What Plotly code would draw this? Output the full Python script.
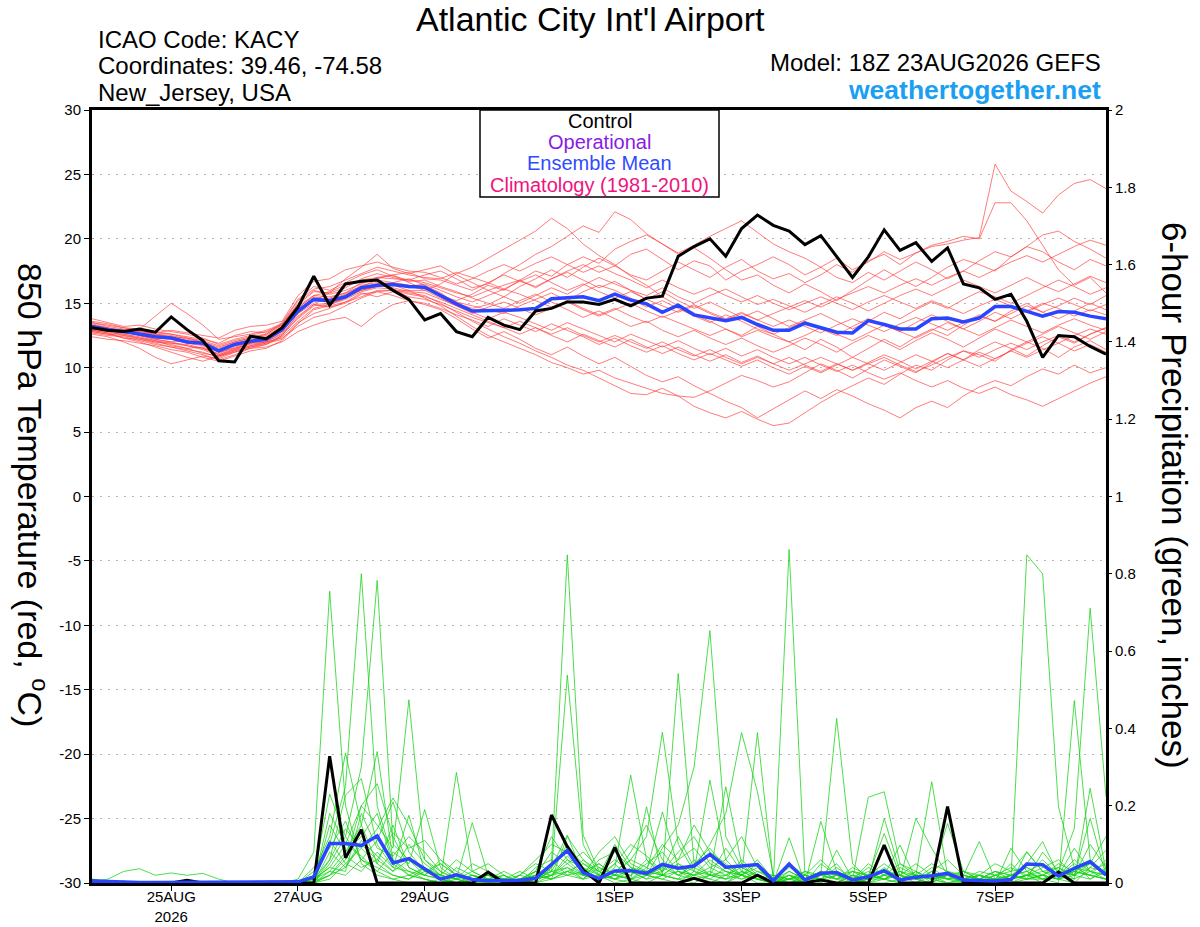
import pandas as pd
import plotly.graph_objects as go

# ---------------- data ----------------
run_start = "2026-08-23 18:00"   # first valid time, 6-hourly steps
n_steps = 65

tick_dates = ["2026-08-25", "2026-08-27", "2026-08-29", "2026-09-01",
              "2026-09-03", "2026-09-05", "2026-09-07"]
tick_labels = ["25AUG<br>2026", "27AUG", "29AUG", "1SEP", "3SEP", "5SEP", "7SEP"]

temp_ticks = [30, 25, 20, 15, 10, 5, 0, -5, -10, -15, -20, -25, -30]
precip_ticks = [0, 0.2, 0.4, 0.6, 0.8, 1, 1.2, 1.4, 1.6, 1.8, 2]

control_temp = [13.1, 12.9, 12.8, 13.0, 12.75, 13.94, 12.95, 12.1, 10.54, 10.44, 12.44, 12.25, 13.1,
                14.7, 17.1, 14.84, 16.5, 16.7, 16.8, 16.0, 15.3, 13.7, 14.2, 12.8, 12.4, 13.9,
                13.3, 12.95, 14.4, 14.6, 15.1, 15.1, 14.9, 15.3, 14.8, 15.4, 15.55, 18.65, 19.4,
                20.0, 18.65, 20.8, 21.85, 21.05, 20.6, 19.55, 20.25, 18.6, 17.0, 18.6, 20.7, 19.1,
                19.7, 18.25, 19.3, 16.5, 16.2, 15.3, 15.7, 13.6, 10.8, 12.5, 12.4, 11.65, 11.05]

mean_temp = [13.2, 12.95, 12.8, 12.6, 12.4, 12.3, 12.0, 11.9, 11.3, 11.8, 12.05, 12.2, 12.95,
             14.4, 15.3, 15.2, 15.5, 16.2, 16.4, 16.45, 16.3, 16.25, 15.6, 14.95, 14.4, 14.4,
             14.45, 14.5, 14.6, 15.35, 15.4, 15.5, 15.2, 15.7, 15.25, 14.95, 14.3, 14.85, 14.1,
             13.85, 13.65, 13.9, 13.35, 12.9, 12.9, 13.45, 13.1, 12.75, 12.7, 13.65, 13.35, 13.0,
             13.0, 13.8, 13.85, 13.55, 13.85, 14.75, 14.75, 14.4, 14.0, 14.35, 14.3, 14.0, 13.8]

control_precip = [0.005, 0.003, 0, 0, 0, 0, 0.007, 0, 0, 0, 0, 0, 0,
                  0, 0, 0.328, 0.065, 0.138, 0, 0, 0, 0, 0, 0, 0, 0.028,
                  0, 0, 0, 0.176, 0.094, 0.034, 0, 0.092, 0, 0, 0, 0, 0.012,
                  0, 0, 0, 0.02, 0, 0, 0, 0.008, 0, 0, 0, 0.098, 0,
                  0, 0, 0.198, 0, 0, 0, 0, 0, 0, 0.028, 0, 0, 0]

mean_precip = [0.005, 0.003, 0.001, 0.001, 0.001, 0.001, 0.001, 0.001, 0.001, 0.001, 0.001, 0.001, 0.001,
               0.003, 0.016, 0.102, 0.102, 0.097, 0.122, 0.052, 0.063, 0.037, 0.01, 0.021, 0.009, 0.006,
               0.006, 0.007, 0.012, 0.047, 0.084, 0.027, 0.012, 0.031, 0.032, 0.025, 0.048, 0.038, 0.044,
               0.074, 0.041, 0.044, 0.048, 0.006, 0.049, 0.008, 0.025, 0.027, 0.008, 0.016, 0.032, 0.008,
               0.015, 0.019, 0.025, 0.008, 0.006, 0.005, 0.009, 0.049, 0.047, 0.018, 0.038, 0.055, 0.021]

# ensemble member 850 hPa temperatures (deg C)
t01 = [13.5,13.2,13.0,12.8,12.6,12.4,12.3,12.0,11.6,12.0,12.3,12.6,13.3,14.8,15.6,15.9,16.4,16.8,17.0,16.9,16.8,16.6,
       16.2,15.8,15.5,16.0,16.4,16.8,16.2,16.9,17.5,18.0,17.4,17.9,17.2,16.8,17.5,18.2,17.6,17.0,17.8,18.4,17.5,16.9,
       17.3,16.6,17.2,18.0,17.4,18.3,18.8,18.0,18.9,19.4,19.6,19.9,20.1,25.8,23.7,22.9,22.0,23.4,24.3,24.6,23.9]
t02 = [13.0,12.8,12.9,12.5,12.2,12.0,12.1,11.8,11.2,11.5,11.9,12.3,13.0,14.2,15.0,15.4,15.8,16.3,16.8,16.6,16.9,16.4,
       15.8,15.0,14.6,14.9,15.5,16.3,16.9,17.6,17.0,17.8,18.5,17.9,18.8,19.2,18.4,17.6,18.3,17.9,16.8,17.5,18.0,18.6,
       18.0,17.2,17.8,18.5,17.6,18.2,19.0,18.4,18.9,19.5,19.8,20.2,20.0,22.8,22.8,21.4,19.5,17.6,16.4,17.0,15.8]
t03 = [13.4,13.1,12.7,12.9,12.7,12.6,12.4,12.2,11.9,12.5,12.8,12.7,13.5,15.3,16.3,16.0,16.6,17.2,17.6,17.1,16.8,17.2,
       17.5,16.9,16.2,16.5,17.3,18.0,18.8,19.4,20.2,21.0,20.5,22.1,21.5,20.4,19.6,18.8,19.3,18.5,17.6,16.8,17.2,16.4,
       15.8,16.5,15.9,15.2,16.0,16.8,17.6,16.9,16.3,17.0,17.8,18.4,18.0,17.5,18.6,19.4,19.0,18.2,17.6,18.4,17.9]
t04 = [12.8,12.6,12.5,12.2,12.0,11.8,11.5,11.6,11.0,11.4,11.7,12.0,12.6,13.8,14.8,14.9,15.4,16.0,16.3,16.4,16.0,16.0,
       16.5,17.3,17.8,18.5,19.2,19.9,20.6,21.6,20.8,19.6,18.7,18.0,17.1,16.4,15.5,14.8,14.1,13.6,13.0,12.5,13.2,12.6,
       12.0,11.4,12.2,11.6,10.8,11.5,12.2,11.6,12.4,13.0,12.5,13.3,14.0,13.6,14.4,15.0,14.3,14.8,15.4,14.9,15.6]
t05 = [13.1,12.9,12.6,12.4,12.1,11.9,11.8,11.5,11.1,11.6,11.9,12.1,12.8,14.6,15.6,15.5,15.8,16.6,16.9,17.2,16.6,16.1,
       15.6,15.2,15.7,16.4,16.0,16.8,17.5,17.1,18.0,18.6,18.1,19.2,19.8,20.3,19.6,18.9,19.5,20.2,20.8,21.4,20.5,19.6,
       19.0,18.5,17.8,17.0,16.6,17.4,16.8,17.5,18.2,17.6,16.9,17.5,18.3,19.0,18.6,19.4,20.3,20.6,19.8,19.2,18.5]
t06 = [12.6,12.4,12.0,11.5,10.8,10.3,10.6,10.9,10.7,11.2,11.6,11.9,12.2,13.5,14.2,14.6,15.1,15.8,15.5,15.9,16.0,15.4,
       14.8,14.0,13.2,12.5,12.0,11.5,11.0,10.4,10.0,9.5,9.8,9.2,8.8,8.4,8.0,7.8,7.0,6.5,6.1,6.6,6.0,5.5,
       5.7,6.5,7.3,8.0,8.6,9.2,8.7,9.5,10.2,9.8,10.6,11.3,11.0,10.5,11.4,12.0,11.5,10.8,11.6,12.1,11.4]
t07 = [12.9,12.7,12.3,12.0,11.6,11.2,10.8,10.5,10.9,11.4,11.9,12.0,12.3,13.2,13.9,14.2,14.8,15.4,15.9,15.6,15.2,14.9,
       14.5,13.8,13.0,12.3,12.8,12.2,11.5,11.0,11.6,10.9,10.3,10.8,10.1,9.4,8.9,9.3,8.6,8.0,7.4,6.9,6.1,6.8,
       7.5,8.2,7.6,8.3,7.8,7.2,6.7,6.1,6.9,7.4,6.9,7.8,8.5,9.0,8.6,9.3,9.9,9.5,10.2,9.6,10.0]
t08 = [13.3,13.0,12.8,12.5,12.2,12.0,11.7,11.4,10.9,11.3,11.6,11.8,12.4,13.6,14.6,14.9,15.3,15.9,16.2,16.1,15.8,15.6,
       15.0,14.3,13.6,13.0,12.4,11.9,11.3,10.8,10.2,9.8,9.2,8.6,8.0,7.9,8.4,7.8,7.7,8.2,8.8,9.4,9.0,8.5,
       8.9,9.6,10.3,9.8,9.2,9.9,10.6,10.1,9.6,10.4,11.1,10.6,11.4,12.0,11.5,10.9,11.7,12.4,11.9,12.6,13.1]
t09 = [13.0,12.9,12.7,12.7,12.5,12.4,12.1,11.9,11.4,11.9,12.2,12.4,13.1,14.5,15.4,15.2,15.6,16.0,16.3,16.5,16.2,16.3,
       15.7,15.1,14.8,14.5,14.2,14.8,15.3,15.8,15.2,15.9,16.4,16.0,15.4,14.7,15.2,14.6,14.0,13.5,14.1,13.6,13.0,12.6,
       13.1,13.6,13.0,12.5,13.2,13.8,13.3,12.8,13.5,14.1,13.6,13.0,13.6,14.3,13.8,14.4,15.0,14.6,14.0,14.5,14.1]
t10 = [13.6,13.4,13.1,13.0,14.0,15.0,14.2,13.3,12.2,12.4,12.6,12.9,13.4,14.9,15.9,15.8,16.2,16.9,17.3,17.0,16.7,16.8,
       16.3,15.9,15.4,15.0,14.6,15.2,15.7,15.1,14.5,13.9,14.4,13.8,13.2,13.6,12.9,12.4,12.9,12.3,11.8,12.3,11.7,11.2,
       11.7,12.3,11.8,11.2,11.9,12.5,12.0,11.4,12.1,12.7,12.2,11.6,12.3,13.0,12.5,12.0,12.6,13.2,12.7,12.2,12.8]
t11 = [12.7,12.5,12.4,12.1,11.8,11.6,11.3,11.0,10.6,11.0,11.5,11.8,12.5,14.2,15.2,15.8,16.9,17.8,18.8,17.7,17.3,17.6,
       17.9,17.2,16.6,16.0,15.5,15.0,15.6,16.2,15.7,16.4,17.0,16.5,16.0,15.3,15.9,15.2,14.6,15.1,14.5,13.9,14.4,13.8,
       13.2,13.7,14.2,13.6,13.0,13.6,14.3,13.8,14.5,15.1,14.6,15.3,15.9,15.5,15.0,15.6,16.2,16.8,16.3,15.7,16.2]
t12 = [12.9,12.8,12.5,12.3,12.1,11.7,11.5,11.1,10.9,11.2,11.5,11.6,12.0,12.8,13.3,13.7,13.9,13.2,14.2,14.9,15.2,15.0,
       14.6,14.1,13.7,13.2,13.8,13.3,12.8,13.4,12.9,12.4,11.8,12.3,11.7,11.2,11.7,11.1,10.6,11.1,10.6,10.1,10.6,10.0,
       9.5,10.1,9.6,10.2,10.8,10.3,9.8,10.4,11.0,10.5,10.0,10.6,11.2,10.7,11.3,11.9,12.4,11.9,12.5,13.0,12.6]
t13 = [13.8,13.5,13.2,13.3,13.0,12.8,12.6,12.3,11.8,12.2,12.5,12.8,13.3,15.0,16.0,15.7,16.0,16.5,17.0,17.2,17.4,16.9,
       16.8,16.4,16.0,16.6,17.2,16.7,16.3,16.9,17.4,16.8,16.2,16.7,16.0,15.6,16.2,15.5,15.0,15.6,16.1,15.5,14.9,15.3,
       14.8,14.3,14.9,15.5,15.0,14.4,15.0,15.6,16.1,15.6,16.2,16.8,16.3,15.8,16.4,17.0,16.4,15.9,16.5,17.1,16.6]
t14 = [12.4,12.2,12.1,11.9,11.7,11.4,11.2,10.8,10.5,10.9,11.3,11.5,12.1,13.4,14.5,14.8,15.1,15.5,16.0,16.0,15.5,15.3,
       14.9,14.4,13.9,13.5,13.1,12.6,13.1,12.5,12.0,12.6,12.1,11.6,12.2,11.6,11.1,11.6,11.0,10.5,11.0,10.4,10.9,10.3,
       10.8,10.2,9.7,10.3,9.8,10.4,11.0,10.5,9.9,10.5,11.1,10.6,10.1,10.7,11.3,10.8,11.4,11.9,11.3,11.8,11.2]
t15 = [13.2,13.0,12.9,12.7,12.6,12.5,12.2,12.0,11.5,12.0,12.3,12.5,13.2,14.7,15.5,15.3,15.7,16.4,16.6,16.5,16.3,16.5,
       16.0,15.5,15.1,15.6,16.1,15.7,15.2,14.7,15.2,14.6,14.1,14.6,14.0,13.5,14.0,13.5,13.0,12.5,13.0,12.4,12.9,12.4,
       12.0,12.5,13.1,12.6,12.1,12.7,13.3,12.8,12.3,12.9,13.5,13.0,12.5,13.1,13.7,13.2,12.7,13.3,13.8,13.3,12.9]
t16 = [13.5,13.3,13.1,12.9,12.8,12.6,12.3,12.1,11.7,12.1,12.4,12.6,13.4,15.2,16.1,16.3,16.8,17.3,17.8,17.5,17.2,17.0,
       16.9,17.4,17.0,16.6,16.1,16.7,17.2,16.6,16.0,16.5,15.9,15.4,15.9,15.3,14.8,14.3,14.8,14.2,13.7,14.2,13.7,13.2,
       13.7,13.2,12.7,13.3,13.8,13.3,12.8,13.4,13.9,13.4,12.9,13.5,14.1,13.6,14.2,14.8,14.3,13.8,14.4,15.0,14.5]
t17 = [12.8,12.6,12.3,12.2,11.9,11.6,11.4,11.2,10.8,11.3,11.7,11.9,12.5,13.9,14.9,15.0,15.4,16.1,16.4,16.2,15.9,15.8,
       15.3,14.8,14.3,13.8,14.3,13.9,13.4,12.9,13.5,13.0,12.5,12.0,12.6,12.1,11.6,12.1,11.5,11.0,11.5,10.9,11.4,10.8,
       10.3,10.8,10.2,9.7,10.2,9.6,9.1,9.6,9.0,8.5,9.0,8.4,8.0,8.5,7.9,7.5,7.0,7.6,8.2,8.8,9.3]
t18 = [13.1,12.9,12.8,12.6,12.3,12.2,11.9,11.7,11.2,11.7,12.0,12.2,12.9,14.3,15.2,15.1,15.4,16.2,16.5,16.6,16.4,16.0,
       15.4,14.8,14.2,14.7,15.1,14.6,14.1,14.6,15.1,14.5,14.0,14.5,15.0,14.4,13.9,14.4,14.9,14.3,13.8,14.3,13.7,14.2,
       14.7,15.2,14.7,15.3,15.8,16.3,15.8,16.4,16.9,16.4,17.0,17.5,17.0,17.6,18.2,18.7,18.2,18.8,19.4,19.9,19.5]
t19 = [13.3,13.1,12.9,12.8,12.7,12.9,12.7,12.5,12.3,12.9,13.2,13.3,13.6,15.6,16.7,16.9,17.6,17.9,18.2,17.8,17.5,17.4,
       17.0,16.5,16.9,17.5,18.0,17.5,18.1,18.6,18.0,17.4,17.9,17.3,16.8,16.2,16.8,16.2,15.7,16.2,15.6,15.1,15.6,15.0,
       14.5,15.0,15.5,15.0,14.5,15.1,15.6,15.1,14.6,15.2,14.7,14.2,14.8,15.3,14.8,14.3,14.9,15.4,14.9,14.4,14.9]
t20 = [12.9,12.7,12.6,12.3,12.0,11.9,11.7,11.5,11.0,11.5,11.8,12.0,12.7,14.0,14.9,14.7,15.0,15.7,15.9,16.0,15.7,15.5,
       15.1,14.6,14.1,13.6,13.1,13.6,13.1,12.6,13.1,12.5,12.0,12.5,12.0,11.5,12.0,11.4,10.9,11.4,10.8,10.3,10.8,10.3,
       9.8,10.3,10.8,10.3,9.8,10.3,10.8,10.2,9.7,10.2,10.8,11.3,10.8,11.4,11.9,11.4,12.0,12.5,12.0,12.6,13.1]

# ensemble member 6-hour precipitation (inches)
p01 = [0.01,0,0,0,0, 0,0,0,0,0, 0,0,0,0.01,0.08, 0.755,0.20,0.05,0.02,0.01, 0,0,0.01,0,0,
       0,0,0,0.01,0.03, 0.538,0.10,0.02,0,0.01, 0,0.02,0.05,0.01,0, 0,0.03,0.01,0,0.117,
       0,0.02,0.05,0,0.01, 0.03,0,0,0.02,0, 0,0,0,0.01,0.849, 0.80,0.197,0.04,0.02,0.01]
p02 = [0.005,0.01,0.03,0.037,0.02, 0.026,0.02,0.025,0.01,0, 0,0,0,0,0.02, 0.10,0.25,0.80,0.20,0.06, 0.03,0.01,0,0.02,0.01,
       0,0,0.01,0.02,0.05, 0.849,0.124,0.03,0.01,0, 0.02,0.01,0,0.03,0.266, 0.06,0.02,0,0,0.863,
       0.02,0,0.085,0.01,0, 0,0.01,0.03,0,0, 0,0.02,0,0.09,0.03, 0.01,0,0.472,0.06,0.02]
p03 = [0,0,0.005,0,0, 0,0,0,0,0, 0,0,0,0,0, 0.05,0.12,0.30,0.783,0.10, 0.06,0.02,0.01,0.286,0.03,
       0.01,0,0,0,0.02, 0.06,0.02,0.01,0.04,0.279, 0.06,0.02,0.01,0,0.02, 0.249,0.05,0.01,0,0.02,
       0,0.159,0.03,0,0.01, 0.02,0.098,0.01,0,0.02, 0,0,0.01,0,0.02, 0,0.03,0.141,0.711,0.223]
p04 = [0,0,0,0,0, 0,0,0,0,0, 0,0,0,0,0.01, 0.04,0.10,0.20,0.15,0.09, 0.474,0.06,0.03,0.01,0.156,
       0.02,0.01,0,0.01,0.02, 0.04,0.01,0.02,0.05,0.01, 0.197,0.02,0.542,0.05,0.02, 0.01,0.02,0.389,0.01,0.03,
       0.01,0.02,0.426,0.05,0.01, 0.01,0,0.02,0.262,0.02, 0.01,0,0,0.02,0.05, 0.107,0.02,0.01,0.245,0.03]
p05 = [0,0,0,0,0, 0,0,0,0,0, 0,0,0,0,0.03, 0.12,0.336,0.15,0.05,0.02, 0.01,0.03,0.05,0.02,0,
       0,0.01,0.02,0.06,0.10, 0.08,0.03,0.01,0.02,0.06, 0.12,0.39,0.10,0.03,0.01, 0,0.02,0.04,0,0.05,
       0,0.01,0.02,0.01,0.222, 0.236,0.05,0.02,0.01,0, 0.01,0,0.02,0,0.01, 0.02,0.01,0,0.04,0.085]
p06 = [0,0,0,0,0, 0,0,0,0,0, 0,0,0,0,0, 0.03,0.08,0.15,0.34,0.06, 0.02,0.04,0.01,0,0.02,
       0,0,0,0.02,0.01, 0.03,0.05,0.02,0.10,0.04, 0.02,0.09,0.15,0.30,0.653, 0.12,0.04,0.02,0,0.01,
       0.03,0.01,0,0.02,0.01, 0.167,0.03,0.01,0.02,0.154, 0.03,0.01,0,0.01,0.02, 0.01,0.02,0.03,0.02,0.01]
p07 = [0,0,0,0,0, 0,0,0,0,0, 0,0,0,0,0.02, 0.23,0.12,0.06,0.03,0.08, 0.05,0.19,0.04,0.01,0,
       0,0.01,0,0.03,0.01, 0.02,0.06,0.03,0.01,0.03, 0.01,0.05,0.02,0.04,0.10, 0.18,0.389,0.236,0.02,0,
       0.01,0.03,0.01,0,0.02, 0.128,0.02,0.01,0,0.03, 0.02,0.107,0.01,0,0.081, 0.03,0.01,0.02,0.167,0.02]
p08 = [0,0,0,0,0, 0,0,0,0,0, 0,0,0,0,0.01, 0.06,0.227,0.27,0.10,0.04, 0.175,0.03,0.01,0,0.02,
       0.01,0,0.01,0,0.04, 0.124,0.02,0.05,0.02,0.01, 0.03,0.184,0.04,0.02,0.03, 0.01,0.06,0.02,0,0.01,
       0,0.02,0.03,0.01,0, 0.02,0.01,0.167,0.09,0.02, 0,0.02,0.01,0.05,0.01, 0.02,0.04,0.01,0.03,0.05]
p09 = [0,0,0,0,0, 0,0,0,0,0, 0,0,0,0,0, 0.02,0.06,0.20,0.257,0.12, 0.04,0.02,0.06,0.03,0.01,
       0.02,0.01,0,0.02,0.08, 0.05,0.02,0.01,0.03,0.02, 0.06,0.03,0.08,0.12,0.05, 0.03,0.01,0.02,0,0.02,
       0,0.05,0.02,0.03,0.01, 0.04,0.01,0.02,0.01,0, 0.01,0.03,0.02,0.04,0.02, 0.06,0.02,0.09,0.03,0.01]
p10 = [0,0,0,0,0, 0,0,0,0,0, 0,0,0,0,0, 0.08,0.04,0.10,0.06,0.03, 0.10,0.05,0.02,0.06,0.03,
       0.01,0,0.02,0.05,0.03, 0.02,0.01,0.06,0.08,0.04, 0.02,0.01,0.03,0.02,0.01, 0.04,0.02,0.05,0,0,
       0.02,0.01,0,0.03,0.02, 0.01,0,0.03,0.01,0.02, 0.02,0.01,0,0.02,0.03, 0.05,0.02,0.04,0.06,0.02]
p11 = [0,0,0,0,0, 0,0,0,0,0, 0,0,0,0,0, 0.15,0.08,0.12,0.18,0.05, 0.02,0.01,0,0.01,0.03,
       0.05,0.02,0,0.01,0.03, 0.10,0.04,0.01,0.02,0.08, 0.15,0.06,0.02,0.01,0, 0.02,0.05,0.03,0.01,0.04,
       0.02,0.06,0.02,0,0.01, 0.03,0.02,0.01,0.04,0.01, 0,0.01,0.03,0.01,0.02, 0.04,0.06,0.02,0.01,0.03]
p12 = [0.01,0.005,0,0,0, 0,0,0,0,0, 0,0,0,0,0.04, 0.09,0.16,0.06,0.11,0.21, 0.08,0.03,0.02,0,0.01,
       0,0.01,0.03,0.01,0.02, 0.07,0.03,0.05,0.02,0.01, 0.04,0.10,0.06,0.15,0.08, 0.05,0.02,0.01,0,0.03,
       0.01,0,0.02,0.01,0.05, 0.02,0.03,0.01,0.02,0.01, 0.01,0,0.02,0.03,0.08, 0.03,0.02,0.05,0.01,0.04]
p13 = [0,0,0,0,0, 0,0,0,0,0, 0,0,0,0,0, 0.01,0.05,0.09,0.14,0.22, 0.15,0.06,0.02,0.01,0,
       0,0,0.01,0.02,0.01, 0.03,0.02,0.08,0.12,0.05, 0.03,0.02,0.01,0.06,0.02, 0.01,0.03,0.02,0,0.02,
       0.01,0.03,0.01,0.02,0, 0.01,0.02,0.05,0.02,0.01, 0.03,0.01,0,0.01,0.02, 0.02,0.01,0.03,0.05,0.12]
p14 = [0,0,0,0,0, 0,0,0,0,0, 0,0,0,0,0.01, 0.04,0.03,0.18,0.09,0.07, 0.12,0.08,0.03,0.01,0.02,
       0.01,0.02,0,0.04,0.06, 0.02,0.03,0.01,0.05,0.10, 0.07,0.03,0.12,0.04,0.02, 0.09,0.03,0.01,0,0.05,
       0.02,0.01,0.04,0.01,0.02, 0.05,0.02,0,0.03,0.06, 0.02,0.01,0.03,0.02,0.01, 0.08,0.03,0.02,0.10,0.04]
p15 = [0,0,0,0,0, 0,0,0,0,0, 0,0,0,0,0, 0.02,0.07,0.04,0.06,0.13, 0.09,0.11,0.06,0.02,0.01,
       0.02,0.01,0.01,0.03,0.12, 0.06,0.04,0.02,0.01,0.02, 0.05,0.08,0.03,0.02,0.04, 0.06,0.12,0.04,0.01,0.01,
       0.03,0.02,0.01,0.03,0.02, 0.01,0.04,0.02,0.01,0.02, 0.01,0.02,0.05,0.03,0.04, 0.02,0.05,0.03,0.02,0.06]
p16 = [0,0,0,0,0, 0,0,0,0,0, 0,0,0,0,0, 0.11,0.05,0.03,0.08,0.04, 0.03,0.02,0.05,0.02,0.01,
       0,0,0.02,0.01,0.04, 0.09,0.05,0.03,0.06,0.03, 0.02,0.04,0.02,0.05,0.09, 0.04,0.02,0.06,0.01,0,
       0.01,0.02,0.03,0.01,0.04, 0.02,0.01,0.02,0.05,0.03, 0.01,0.02,0.01,0.02,0.03, 0.01,0.02,0.06,0.03,0.02]
p17 = [0,0,0,0,0, 0,0,0,0,0, 0,0,0,0.005,0.01, 0.03,0.02,0.06,0.04,0.02, 0.01,0.04,0.02,0.01,0.05,
       0.03,0.01,0,0.02,0.03, 0.04,0.02,0.01,0.03,0.06, 0.04,0.02,0.05,0.03,0.02, 0.02,0.04,0.02,0.01,0.02,
       0.01,0.03,0.02,0.01,0.02, 0.03,0.01,0.02,0.02,0.01, 0.02,0.01,0.02,0.01,0.02, 0.03,0.04,0.02,0.05,0.02]
p18 = [0,0,0,0,0, 0,0,0,0,0, 0,0,0,0,0, 0.18,0.10,0.07,0.03,0.01, 0.02,0.01,0,0.04,0.02,
       0.01,0.03,0.01,0,0.01, 0.12,0.06,0.02,0.01,0.04, 0.03,0.02,0.01,0.02,0.06, 0.03,0.02,0.01,0.02,0.01,
       0.02,0.01,0,0.02,0.01, 0.02,0.05,0.03,0.01,0.02, 0.01,0.02,0.01,0.02,0.04, 0.02,0.01,0.03,0.02,0.01]
p19 = [0,0,0,0,0, 0,0,0,0,0, 0,0,0,0,0, 0.06,0.14,0.09,0.05,0.15, 0.04,0.02,0.01,0.02,0.01,
       0.02,0,0.01,0.03,0.02, 0.05,0.08,0.04,0.02,0.01, 0.02,0.03,0.06,0.09,0.04, 0.02,0.01,0.03,0.02,0.01,
       0.01,0.02,0.01,0.04,0.02, 0.01,0.02,0.01,0.03,0.01, 0.02,0.01,0.03,0.02,0.01, 0.01,0.03,0.02,0.04,0.03]
p20 = [0,0,0,0,0, 0,0,0,0,0, 0,0,0,0,0.005, 0.02,0.04,0.11,0.07,0.03, 0.06,0.03,0.02,0.01,0,
       0.01,0.02,0,0.01,0.02, 0.03,0.01,0.04,0.02,0.03, 0.01,0.02,0.03,0.01,0.02, 0.03,0.02,0.01,0,0.01,
       0.02,0.01,0.02,0.01,0.03, 0.01,0.03,0.02,0.01,0.02, 0.03,0.02,0.01,0.02,0.01, 0.02,0.01,0.04,0.03,0.02]

temp_members = [t01, t02, t03, t04, t05, t06, t07, t08, t09, t10,
                t11, t12, t13, t14, t15, t16, t17, t18, t19, t20]
precip_members = [p01, p02, p03, p04, p05, p06, p07, p08, p09, p10,
                  p11, p12, p13, p14, p15, p16, p17, p18, p19, p20]

# ---------------- figure ----------------
times = pd.date_range(run_start, periods=n_steps, freq="6h")
FONT = "Liberation Sans, Arial, Helvetica, sans-serif"

fig = go.Figure()

for m in temp_members:
    fig.add_trace(go.Scatter(x=times, y=m, mode="lines", yaxis="y",
                             line=dict(color="rgba(255,60,60,0.85)", width=0.8),
                             hoverinfo="skip", showlegend=False))
for m in precip_members:
    fig.add_trace(go.Scatter(x=times, y=m, mode="lines", yaxis="y2",
                             line=dict(color="rgba(20,210,20,0.95)", width=0.8),
                             hoverinfo="skip", showlegend=False))

fig.add_trace(go.Scatter(x=times, y=mean_temp, mode="lines", yaxis="y",
                         line=dict(color="#2a45ff", width=3.5), showlegend=False))
fig.add_trace(go.Scatter(x=times, y=control_temp, mode="lines", yaxis="y",
                         line=dict(color="black", width=3), showlegend=False))
fig.add_trace(go.Scatter(x=times, y=control_precip, mode="lines", yaxis="y2",
                         line=dict(color="black", width=3), showlegend=False))
fig.add_trace(go.Scatter(x=times, y=mean_precip, mode="lines", yaxis="y2",
                         line=dict(color="#2a45ff", width=3.5), showlegend=False))

L, R, T, B = 92, 94, 110, 44
W, H = 1200, 927
pw, ph = W - L - R, H - T - B


def px(x):
    return (x - L) / pw


def py(y):
    return (H - B - y) / ph


TICKFONT = dict(size=15, family=FONT, color="black")

fig.update_layout(
    width=W, height=H, autosize=False,
    margin=dict(l=L, r=R, t=T, b=B, pad=0, autoexpand=False),
    paper_bgcolor="white", plot_bgcolor="white",
    font=dict(family=FONT, color="black", size=15),
    showlegend=False,
    xaxis=dict(type="date", range=[times[0], times[-1]],
               tickvals=tick_dates, ticktext=tick_labels, automargin=False,
               ticks="outside", ticklen=5, tickwidth=1, tickcolor="black",
               ticklabelstandoff=-7,
               showline=True, linewidth=3, linecolor="black", mirror=True,
               showgrid=False, zeroline=False,
               tickfont=dict(size=15, family=FONT, color="black")),
    yaxis=dict(range=[-30, 30], tickvals=temp_ticks, automargin=False,
               ticktext=[str(v) for v in temp_ticks],
               ticks="outside", ticklen=5, tickwidth=1, tickcolor="black",
               showline=True, linewidth=3, linecolor="black", mirror=True,
               showgrid=True, gridcolor="#b4b4b4", gridwidth=1, griddash="2px,6px",
               zeroline=False, tickfont=TICKFONT),
    yaxis2=dict(range=[0, 2], overlaying="y", side="right", automargin=False,
                tickvals=precip_ticks, ticktext=[f"{v:g}" for v in precip_ticks],
                ticks="outside", ticklen=5, tickwidth=1, tickcolor="black",
                showline=False, showgrid=False, zeroline=False, tickfont=TICKFONT),
)

# legend box
fig.add_shape(type="rect", xref="paper", yref="paper",
              x0=px(480), x1=px(719), y0=py(197), y1=py(110),
              line=dict(color="black", width=1.5), fillcolor="white", layer="above")

ann = []
legend_items = [("Control", "black", 121), ("Operational", "#8a1be6", 142),
                ("Ensemble Mean", "#2f4bff", 163), ("Climatology (1981-2010)", "#f0137d", 185)]
for txt, col, yy in legend_items:
    ann.append(dict(text=txt, x=px(599.5), y=py(yy), xanchor="center", yanchor="middle",
                    font=dict(size=20, color=col, family=FONT)))

ann.append(dict(text="Atlantic City Int'l Airport", x=px(590), y=py(19),
                xanchor="center", yanchor="middle", font=dict(size=34, family=FONT)))
for txt, yy in [("ICAO Code: KACY", 40), ("Coordinates: 39.46, -74.58", 66),
                ("New_Jersey, USA", 93)]:
    ann.append(dict(text=txt, x=px(96), y=py(yy), xanchor="left", yanchor="middle",
                    font=dict(size=24, family=FONT)))
ann.append(dict(text="Model: 18Z 23AUG2026 GEFS", x=px(1103), y=py(62),
                xanchor="right", yanchor="middle", font=dict(size=24, family=FONT)))
ann.append(dict(text="<b>weathertogether.net</b>", x=px(1103), y=py(90),
                xanchor="right", yanchor="middle",
                font=dict(size=26.5, color="#1a9ff2", family=FONT)))
ann.append(dict(text="850 hPa Temperature (red, <sup>o</sup>C)", x=px(33), y=py(495),
                xanchor="center", yanchor="middle", textangle=90,
                font=dict(size=34, family=FONT)))
ann.append(dict(text="6-hour Precipitation (green, inches)", x=px(1175), y=py(495),
                xanchor="center", yanchor="middle", textangle=90,
                font=dict(size=35, family=FONT)))

for a in ann:
    a.update(xref="paper", yref="paper", showarrow=False)
fig.update_layout(annotations=ann)

page_style = (
    "document.documentElement.style.margin='0';"
    "document.body.style.margin='0';"
    "document.documentElement.style.overflow='hidden';"
    "document.body.style.overflow='hidden';"
)

fig.write_html("out.html", config={"displayModeBar": False}, post_script=page_style)
